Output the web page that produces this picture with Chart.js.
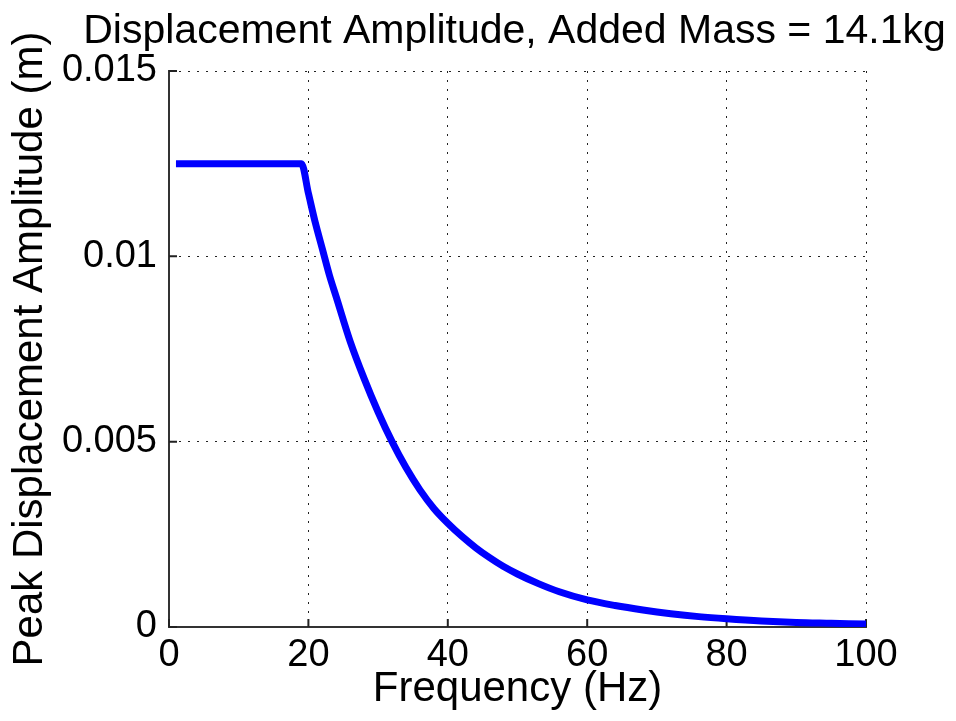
<!DOCTYPE html>
<html>
<head>
<meta charset="utf-8">
<script src="https://cdn.jsdelivr.net/npm/chart.js@4/dist/chart.umd.min.js"></script>
<style>
  html, body { margin: 0; padding: 0; background: #fff; }
  #wrap { width: 956px; height: 721px; }
</style>
</head>
<body>
<div id="wrap"><canvas id="canvas-disp" width="956" height="721"></canvas></div>
<script>
// values
const freqHz = [1, 19, 20, 21, 22, 23, 24, 26, 28, 30, 32, 34, 36, 38, 40, 42, 44, 46, 48, 50, 53, 56, 60,
                64, 68, 72, 76, 80, 85, 90, 95, 100];
const amplitude = [0.0125, 0.0125, 0.0117, 0.0109, 0.0102, 0.0095, 0.0089, 0.0077, 0.0067, 0.0058, 0.0050, 0.0043,
                   0.0037, 0.0032, 0.0028, 0.00245, 0.00214, 0.00187, 0.00163, 0.00143, 0.00117, 0.00095, 0.00073,
                   0.00058, 0.00046, 0.00036, 0.00028, 0.00022, 0.00016, 0.00012, 0.0001, 0.00008];
const xTickLabels = ['0', '20', '40', '60', '80', '100'];
const yTickLabels = ['0', '0.005', '0.01', '0.015'];
const chartTitle = 'Displacement Amplitude, Added Mass = 14.1kg';

const FONT = "'Liberation Sans', Arial, Helvetica, sans-serif";

// short tick marks drawn inside the axes + title centred over the plot box (matlab style)
const matlabBits = {
    id: 'matlabBits',
    beforeDatasetsDraw(chart) {
        const { ctx, scales: { x, y } } = chart;
        ctx.save();
        ctx.strokeStyle = '#222';
        ctx.lineWidth = 2;
        ctx.beginPath();
        x.ticks.forEach(t => {
            const px = x.getPixelForValue(t.value);
            ctx.moveTo(px, y.bottom);
            ctx.lineTo(px, y.bottom - 8);
        });
        y.ticks.forEach(t => {
            const py = y.getPixelForValue(t.value);
            ctx.moveTo(x.left, py);
            ctx.lineTo(x.left + 8, py);
        });
        ctx.stroke();
        ctx.restore();
    },
    afterDraw(chart) {
        const { ctx, chartArea } = chart;
        ctx.save();
        ctx.fillStyle = '#000';
        ctx.font = '41px ' + FONT;
        ctx.textAlign = 'center';
        ctx.textBaseline = 'alphabetic';
        ctx.fillText(chartTitle, (chartArea.left + chartArea.right) / 2 - 3, 43);
        ctx.restore();
    }
};

const ctx = document.getElementById('canvas-disp');
new Chart(ctx, {
    type: 'line',
    data: {
        datasets: [{
            data: freqHz.map((f, i) => ({ x: f, y: amplitude[i] })),
            borderColor: '#0000ff',
            borderWidth: 7,
            pointRadius: 0,
            fill: false,
            cubicInterpolationMode: 'monotone'
        }]
    },
    options: {
        responsive: false,
        animation: false,
        devicePixelRatio: 1,
        layout: { padding: { left: 0, right: 90, top: 71, bottom: 0 } },
        plugins: {
            legend: { display: false },
            tooltip: { enabled: false },
            title: { display: false }
        },
        scales: {
            x: {
                type: 'linear',
                min: 0,
                max: 100,
                ticks: {
                    stepSize: 20,
                    color: '#000',
                    padding: 6,
                    maxRotation: 0,
                    font: { family: FONT, size: 38 },
                    callback: (v, i) => xTickLabels[i]
                },
                grid: { color: '#222', lineWidth: 1, drawTicks: false },
                border: { display: true, color: '#333', width: 2, dash: [2, 7] },
                title: {
                    display: true,
                    text: 'Frequency (Hz)',
                    color: '#000',
                    font: { family: FONT, size: 42, lineHeight: 1.2 },
                    padding: { top: 0, bottom: 6 }
                },
                afterFit: s => { s.height = 94; }
            },
            y: {
                type: 'linear',
                min: 0,
                max: 0.015,
                ticks: {
                    stepSize: 0.005,
                    color: '#000',
                    padding: 12,
                    font: { family: FONT, size: 38 },
                    callback: (v, i) => yTickLabels[i]
                },
                grid: { color: '#222', lineWidth: 1, drawTicks: false },
                border: { display: true, color: '#333', width: 2, dash: [2, 7] },
                title: {
                    display: true,
                    text: 'Peak Displacement Amplitude (m)',
                    color: '#000',
                    font: { family: FONT, size: 42, lineHeight: 1.2 },
                    padding: { top: 5, bottom: 0 }
                },
                afterFit: s => { s.width = 169; }
            }
        }
    },
    plugins: [matlabBits]
});
</script>
</body>
</html>
